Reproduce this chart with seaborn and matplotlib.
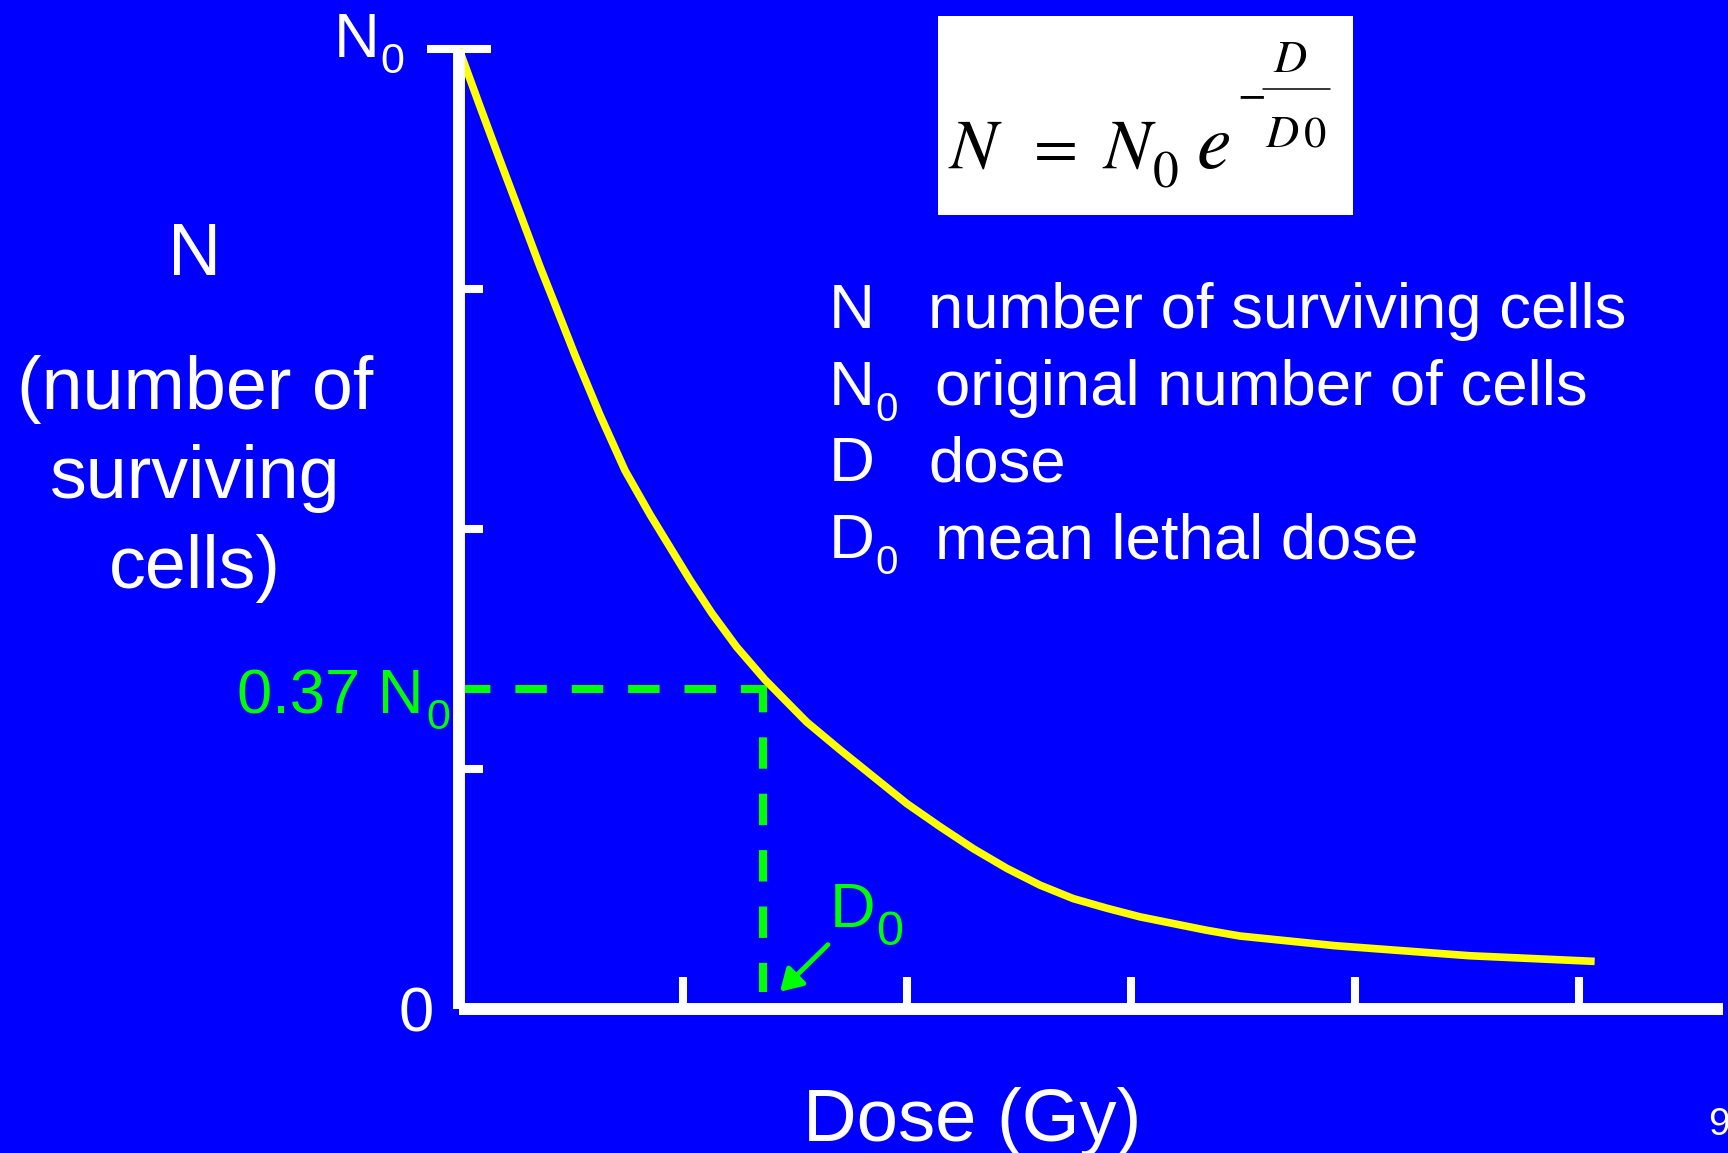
import matplotlib
matplotlib.use('Agg')
import matplotlib.pyplot as plt
from matplotlib.patches import Rectangle
from matplotlib.lines import Line2D
import seaborn as sns
import pandas as pd

# survival curve as drawn on the slide (dose in tick units, N / N0)
dose = [0.0, 0.094, 0.183, 0.272, 0.362, 0.42, 0.518, 0.629, 0.741, 0.853,
        0.942, 1.031, 1.128, 1.24, 1.366, 1.552, 1.701, 1.85, 1.999, 2.147,
        2.296, 2.445, 2.594, 2.742, 2.892, 3.04, 3.189, 3.338, 3.487, 3.909,
        4.511, 5.07]
surviving = [1.0, 0.94, 0.884, 0.829, 0.773, 0.739, 0.681, 0.619, 0.561, 0.515,
             0.481, 0.447, 0.4125, 0.377, 0.343, 0.299, 0.27, 0.242, 0.214,
             0.19, 0.167, 0.1466, 0.129, 0.115, 0.105, 0.096, 0.089, 0.082,
             0.076, 0.066, 0.0555, 0.0496]

x_ticks = [1, 2, 3, 4, 5]
y_ticks = [0.25, 0.5, 0.75]
d0 = 1.357      # D0 marker on the dose axis
level = 0.333   # the "0.37 N0" guide line as drawn

legend_symbols = ['N', 'N', 'D', 'D']
legend_subs = ['', '0', '', '0']
legend_desc = ['number of surviving cells', 'original number of cells',
               'dose', 'mean lethal dose']
ylabel_lines = ['(number of', 'surviving', 'cells)']

BLUE = '#0000FF'
YELLOW = '#FFFF00'
GREEN = '#00FF00'
WHITE = '#FFFFFF'

sns.set_theme(style='white')
plt.rcParams['font.family'] = ['Liberation Sans', 'DejaVu Sans']

W, H = 1728, 1153
fig = plt.figure(figsize=(W / 100, H / 100), dpi=100, facecolor=BLUE)
ax = fig.add_axes([0, 0, 1, 1])
ax.set_facecolor(BLUE)

# origin and scale of the plot in pixels
ox, oy = 459, 1009
sx, sy = 224, 960
ax.set_xlim(-ox / sx, (W - ox) / sx)
ax.set_ylim((oy - H) / sy, oy / sy)


def px(x, y):
    # pixel position -> figure fraction
    return x / W, 1 - y / H


def put(x, y, s, size, color=WHITE, ha='left', **kw):
    fig.text(*px(x, y), s, fontsize=size, color=color, ha=ha, va='baseline', **kw)


# curve
df = pd.DataFrame({'dose': dose, 'N': surviving})
sns.lineplot(data=df, x='dose', y='N', color=YELLOW, linewidth=5.5, ax=ax, zorder=3)
ax.lines[-1].set_solid_capstyle('butt')
ax.lines[-1].set_solid_joinstyle('round')

# dashed guides for D0
ax.plot([0, d0 + 4 / sx], [level, level], color=GREEN, lw=5.8,
        linestyle=(0, (3.9, 3.1)), dash_capstyle='butt', zorder=2)
ax.plot([d0, d0], [level, 17 / sy], color=GREEN, lw=5.8,
        linestyle=(1.0, (3.9, 3.1)), dash_capstyle='butt', zorder=2)
ax.annotate('', xy=(d0 + 0.076, 0.018), xytext=(d0 + 0.29, 0.067),
            arrowprops=dict(arrowstyle='-|>,head_length=0.5,head_width=0.3',
                            color=GREEN, lw=3.5, mutation_scale=26,
                            shrinkA=0, shrinkB=0))

# axes
ax.set_xlabel('')
ax.set_ylabel('')
for s in ['top', 'right']:
    ax.spines[s].set_visible(False)
ax.spines['left'].set_position(('data', 0))
ax.spines['bottom'].set_position(('data', 0))
ax.spines['left'].set_bounds(0, 1)
ax.spines['bottom'].set_bounds(0, (1723 - ox) / sx)
for s in ['left', 'bottom']:
    ax.spines[s].set_color(WHITE)
    ax.spines[s].set_linewidth(8.6)
    ax.spines[s].set_capstyle('butt')
    ax.spines[s].set_zorder(4)

ax.set_xticks(x_ticks)
ax.set_yticks(y_ticks)
ax.set_yticks([1.0], minor=True)
ax.tick_params(axis='x', which='major', bottom=True, direction='in', length=23,
               width=5.8, color=WHITE, labelbottom=False)
ax.tick_params(axis='y', which='major', left=True, direction='in', length=17.3,
               width=5.8, color=WHITE, labelleft=False)
ax.tick_params(axis='y', which='minor', left=True, direction='inout', length=46,
               width=5.8, color=WHITE, labelleft=False)

# axis texts
put(334, 57, 'N', 45.5)
put(380, 73, '0', 31)
put(416, 1031, '0', 45.5, ha='center')
put(195, 275, 'N', 53, ha='center')
for i, line in enumerate(ylabel_lines):
    put(195, 409 + i * 89.5, line, 53, ha='center')
put(972, 1141, 'Dose (Gy)', 53.5, ha='center')
put(1708, 1135, '9', 28)

# green labels
put(237, 713, '0.37 N', 45.5, color=GREEN)
put(426, 729, '0', 31, color=GREEN)
put(830, 927, 'D', 45.5, color=GREEN)
put(876, 945, '0', 35, color=GREEN)

# legend of symbols
for i, (sym, sub, desc) in enumerate(zip(legend_symbols, legend_subs, legend_desc)):
    base = 328 + i * 76.7
    put(829, base, sym, 45.7)
    if sub:
        put(875, base + 16, sub, 29)
        put(935, base, desc, 45.7)
    else:
        put(928, base, desc, 45.7)

# formula box
x0, y0 = px(938, 215)
fig.add_artist(Rectangle((x0, y0), (1353 - 938) / W, (215 - 16) / H,
                         transform=fig.transFigure, facecolor=WHITE,
                         edgecolor='none', zorder=1))
stix = dict(color='black', family='STIXGeneral')
put(949, 168, 'N', 51, style='italic', **stix)
put(1056, 168, '=', 46, ha='center', **stix)
put(1103, 168, 'N', 51, style='italic', **stix)
put(1153, 187, '0', 37, **stix)
put(1197, 168, 'e', 56, style='italic', **stix)
put(1237, 107, '\u2212', 30, **stix)
fig.add_artist(Line2D([1263 / W, 1330 / W], [1 - 89 / H, 1 - 89 / H],
                      transform=fig.transFigure, color='black', lw=1.1, zorder=3))
put(1290, 72, 'D', 33, ha='center', style='italic', **stix)
put(1265, 147, 'D', 33, style='italic', **stix)
put(1304, 148, '0', 32, **stix)

fig.savefig('out.png', dpi=100, facecolor=fig.get_facecolor())
